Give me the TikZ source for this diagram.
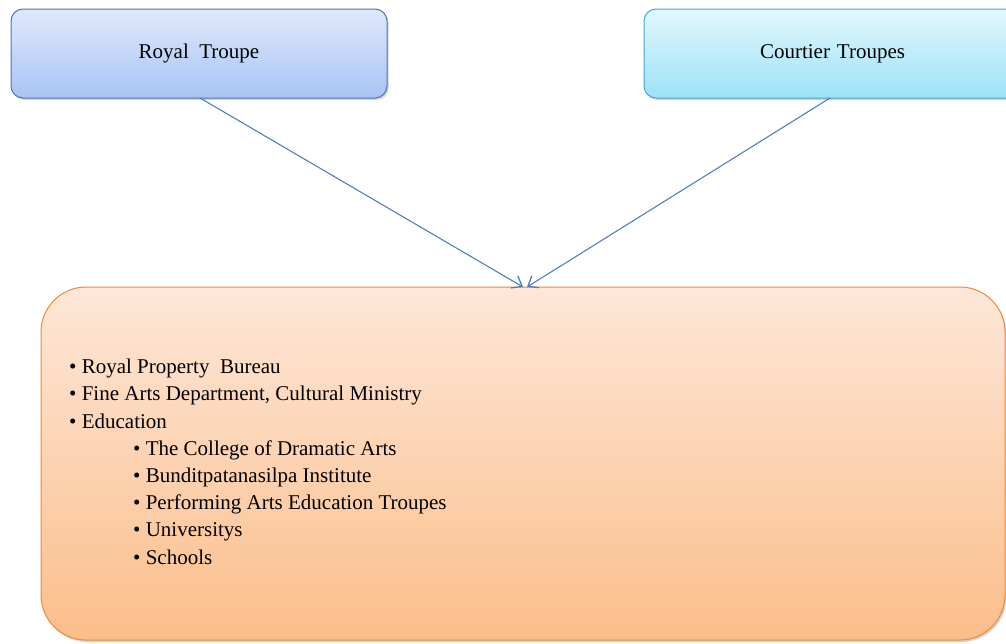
\documentclass[tikz,border=0pt]{standalone}
\usepackage{fontspec}
\setmainfont{Liberation Serif}
\usetikzlibrary{shadows,arrows.meta}
\definecolor{rtTop}{HTML}{DFE9FB}
\definecolor{rtBot}{HTML}{A8C3F4}
\definecolor{rtLine}{HTML}{4F74BC}
\definecolor{ctTop}{HTML}{E2F7FD}
\definecolor{ctBot}{HTML}{9DE2F7}
\definecolor{ctLine}{HTML}{3FA9C8}
\definecolor{bgTop}{HTML}{FDE7D8}
\definecolor{bgBot}{HTML}{FBBE8A}
\definecolor{bgLine}{HTML}{EB8A3C}
\definecolor{arr}{HTML}{4F7FC0}
\tikzset{
  topbox/.style={rounded corners=12pt, line width=1pt, minimum width=376pt, minimum height=89pt,
    drop shadow={shadow xshift=1.5pt, shadow yshift=-2pt, opacity=0.35}, font=\fontsize{21}{25}\selectfont, inner sep=0pt},
  bigbox/.style={rounded corners=45pt, line width=1pt, draw=bgLine, top color=bgTop, bottom color=bgBot,
    minimum width=964pt, minimum height=353pt, inner sep=0pt,
    drop shadow={shadow xshift=1.5pt, shadow yshift=-2pt, opacity=0.35}},
  conn/.style={draw=arr, line width=1.1pt, -{Straight Barb[length=9pt,width=14pt,line width=1.3pt]}},
  listtext/.style={align=left, anchor=north west, inner sep=0pt, font=\fontsize{21}{27.2}\selectfont}
}
\begin{document}
\begin{tikzpicture}[x=1pt,y=-1pt]
\useasboundingbox (0,0) rectangle (1006,643);
\clip (0,0) rectangle (1006,643);
\node[bigbox] (big) at (523,463.5) {};
\node[topbox, draw=rtLine, top color=rtTop, bottom color=rtBot] (royal) at (199,53.5) {Royal\ \ Troupe};
\node[topbox, draw=ctLine, top color=ctTop, bottom color=ctBot, text width=376pt, align=left] (court) at (832,53.5) {\hspace*{116pt}Courtier Troupes};
\coordinate (rt) at (200,98);
\coordinate (ct) at (830,98);
\coordinate (tip1) at (523,287);
\coordinate (tip2) at (527,287);
\draw[conn] (rt) -- (tip1);
\draw[conn] (ct) -- (tip2);
\node[listtext] (list) at (69,359) {%
\textbullet\ Royal Property\ \ Bureau\\
\textbullet\ Fine Arts Department, Cultural Ministry\\
\textbullet\ Education\\
\hspace*{64pt}\textbullet\ The College of Dramatic Arts\\
\hspace*{64pt}\textbullet\ Bunditpatanasilpa Institute\\
\hspace*{64pt}\textbullet\ Performing Arts Education Troupes\\
\hspace*{64pt}\textbullet\ Universitys\\
\hspace*{64pt}\textbullet\ Schools};
\end{tikzpicture}
\end{document}
